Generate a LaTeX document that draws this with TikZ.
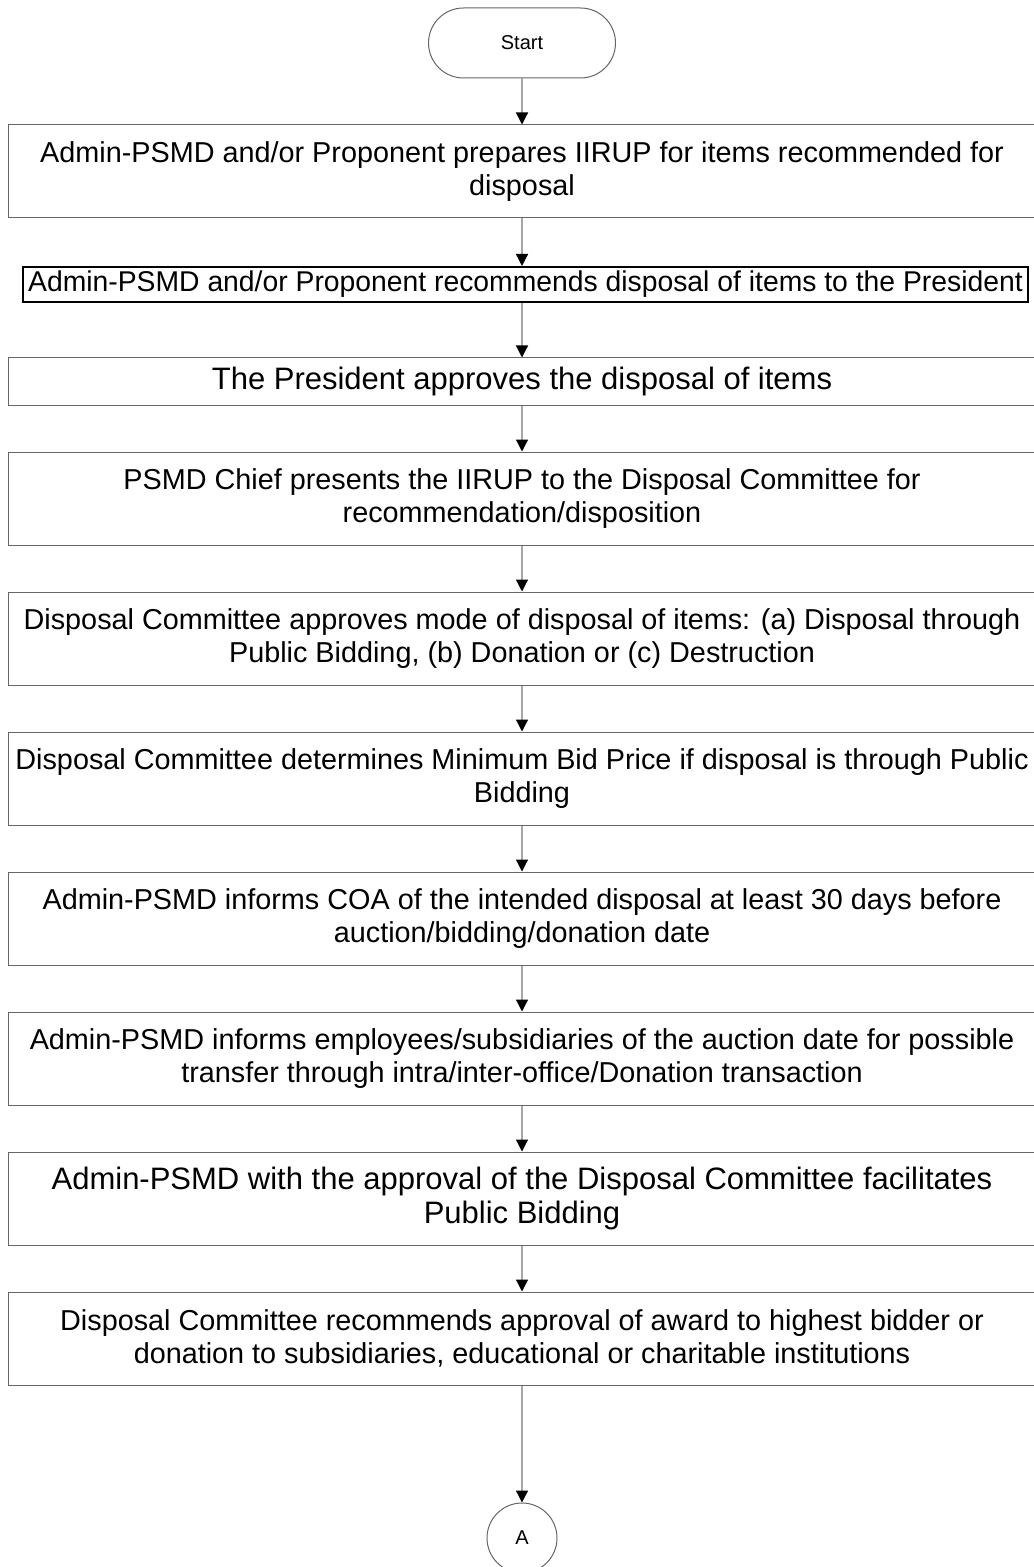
\documentclass[tikz,border=0pt]{standalone}
\usepackage{fontspec}
\setmainfont{Liberation Sans}
\usepackage{graphicx}
\usetikzlibrary{arrows.meta}

\begin{document}
\begin{tikzpicture}[x=0.5pt,y=-0.5pt,
  >={Triangle[length=6pt,width=6pt,color=black]},
  stepbox/.style={draw=black!60, line width=0.5pt, minimum width=514pt, minimum height=46.5pt, inner sep=0pt, align=center, font=\fontsize{14.4}{16.2}\selectfont},
  flow/.style={->, draw=black!35, line width=0.6pt}]
\useasboundingbox (0,0) rectangle (1033,1567);
\node[draw=black!60, line width=0.5pt, rounded corners=17.5pt, minimum width=93.5pt, minimum height=35pt, font=\fontsize{10}{12}\selectfont] (start) at (522,43) {Start};
\node[stepbox] (b1) at (522,171.5) {Admin-PSMD and/or Proponent prepares IIRUP for items recommended for\\disposal};
\node[draw=black, line width=1pt, minimum width=502.5pt, minimum height=17.5pt, inner sep=0pt, font=\fontsize{14.3}{16}\selectfont] (b2) at (525.5,284.5) {\scalebox{0.99}[1]{Admin-PSMD and/or Proponent recommends disposal of items to the President}};
\node[stepbox, minimum height=23.5pt, font=\fontsize{15.5}{18}\selectfont] (b3) at (522,381.5) {The President approves the disposal of items};
\node[stepbox] (b4) at (522,498.5) {PSMD Chief presents the IIRUP to the Disposal Committee for\\recommendation/disposition};
\node[stepbox] (b5) at (522,638.5) {Disposal Committee approves mode of disposal of items: (a) Disposal through\\Public Bidding, (b) Donation or (c) Destruction};
\node[stepbox] (b6) at (522,778.5) {Disposal Committee determines Minimum Bid Price if disposal is through Public\\Bidding};
\node[stepbox] (b7) at (522,918.5) {Admin-PSMD informs COA of the intended disposal at least 30 days before\\auction/bidding/donation date};
\node[stepbox] (b8) at (522,1058.5) {Admin-PSMD informs employees/subsidiaries of the auction date for possible\\transfer through intra/inter-office/Donation transaction};
\node[stepbox, font=\fontsize{15.5}{17}\selectfont] (b9) at (522,1198.5) {Admin-PSMD with the approval of the Disposal Committee facilitates\\Public Bidding};
\node[stepbox] (b10) at (522,1338.5) {Disposal Committee recommends approval of award to highest bidder or\\donation to subsidiaries, educational or charitable institutions};
\node[draw=black!60, line width=0.5pt, circle, minimum size=35pt, inner sep=0pt, font=\fontsize{10}{12}\selectfont] (conA) at (522,1538) {A};
\draw[flow] (start) -- (b1);
\draw[flow] (b1) -- (b1 |- b2.north);
\draw[flow] (b2.south -| b1) -- (b3);
\draw[flow] (b3) -- (b4);
\draw[flow] (b4) -- (b5);
\draw[flow] (b5) -- (b6);
\draw[flow] (b6) -- (b7);
\draw[flow] (b7) -- (b8);
\draw[flow] (b8) -- (b9);
\draw[flow] (b9) -- (b10);
\draw[flow] (b10) -- (conA);
\end{tikzpicture}
\end{document}
